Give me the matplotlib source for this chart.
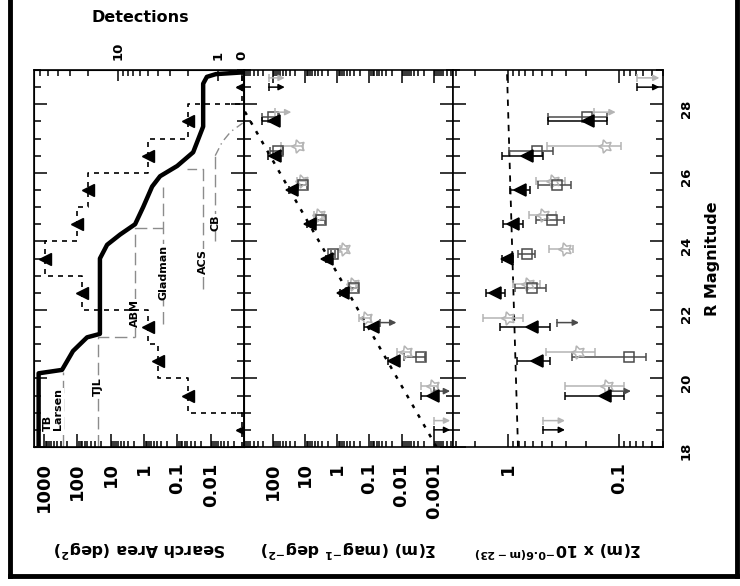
import numpy as np
import matplotlib
matplotlib.use('Agg')
import matplotlib.pyplot as plt
from matplotlib.ticker import (LogLocator, NullFormatter, FixedLocator,
                               FixedFormatter, MultipleLocator)
from matplotlib.lines import Line2D

plt.rcParams['font.family'] = ['DejaVu Sans']
plt.rcParams['font.weight'] = 'bold'
plt.rcParams['mathtext.default'] = 'bf'

# ---- data -------------------------------------------------------------
# half-magnitude bin centres (R)
mag_bins = np.array([18.5, 19.5, 20.5, 21.5, 22.5, 23.5, 24.5, 25.5, 26.5, 27.5, 28.5])

# detections per bin
detections = np.array([0, 2, 4, 5, 23, 54, 26, 20, 5, 2, 0])

# total effective search area (deg^2) vs magnitude
area_mag = [18.0, 20.15, 20.25, 20.4, 20.8, 21.2, 21.3, 23.5, 23.9, 24.2, 24.5,
            25.0, 25.6, 25.9, 26.2, 26.6, 27.35, 28.6, 28.8, 28.88, 28.93]
area_deg2 = [1450, 1450, 288, 234, 135, 51, 21, 21, 12.8, 5.2, 1.85,
             1.06, 0.57, 0.33, 0.101, 0.0335, 0.0168, 0.0168, 0.013, 0.007, 0.0011]

# individual surveys (grey dashed outlines)
survey_names = ['TB', 'Larsen', 'TJL', 'ABM', 'Gladman', 'ACS', 'CB']
survey_path_area = [
    [],
    [270, 270],
    [24, 24, 1.85],
    [1.85, 1.85, 0.267],
    [0.267, 0.267],
    [0.0168, 0.0168, 0.05],
    [0.0073, 0.0073],
]
survey_path_mag = [
    [],
    [18.0, 20.2],
    [18.0, 21.2, 21.2],
    [21.2, 24.4, 24.4],
    [21.6, 25.6],
    [22.6, 26.1, 26.1],
    [24.0, 26.5],
]
label_area = [760, 380, 24, 1.85, 0.267, 0.0168, 0.0073]
label_mag = [18.7, 19.1, 19.75, 21.9, 23.1, 23.4, 24.55]

# faint-end roll-off of the deepest surveys (thin grey)
rolloff_area = [0.0073, 0.0045, 0.0025, 0.0011]
rolloff_mag = [26.5, 26.9, 27.2, 27.45]

# Sigma(m) x 10^-0.6(m-23) ; value, upper end, lower end of error bar
tri_val = np.array([np.nan, 0.132, 0.552, 0.613, 1.32, 1.02, 0.90, 0.78, 0.68, 0.191, np.nan])
tri_up = np.array([np.nan, 0.305, 0.84, 1.19, 1.6, 1.15, 1.11, 0.97, 1.13, 0.433, np.nan])
tri_dn = np.array([np.nan, 0.090, 0.418, 0.418, 1.07, 0.90, 0.74, 0.635, 0.486, 0.128, np.nan])

sq_val = np.array([np.nan, np.nan, 0.081, np.nan, 0.613, 0.68, 0.403, 0.359, 0.545, 0.194, np.nan])
sq_up = np.array([np.nan, np.nan, 0.265, np.nan, 0.87, 0.81, 0.56, 0.533, 0.98, 0.433, np.nan])
sq_dn = np.array([np.nan, np.nan, 0.057, np.nan, 0.454, 0.571, 0.31, 0.271, 0.39, 0.128, np.nan])

star_val = np.array([np.nan, 0.128, 0.236, 1.0, 0.658, 0.305, 0.48, 0.39, 0.132, np.nan, np.nan])
star_up = np.array([np.nan, 0.305, 0.454, 1.71, 0.91, 0.424, 0.645, 0.56, 0.448, np.nan, np.nan])
star_dn = np.array([np.nan, 0.090, 0.163, 0.73, 0.515, 0.257, 0.368, 0.305, 0.095, np.nan, np.nan])

# upper limits
tri_ul_mag = np.array([18.5, 28.5])
tri_ul = np.array([0.486, 0.068])
sq_ul_mag = np.array([19.5, 21.5])
sq_ul = np.array([0.123, 0.363])
star_ul_mag = np.array([18.5, 27.5, 28.5])
star_ul = np.array([0.486, 0.169, 0.068])

# power-law fit (in the normalised units)
fit_mag = np.array([18.0, 29.0])
fit_norm = np.array([0.817, 1.028])

# ---- figure -----------------------------------------------------------
W, H = 740.0, 586.0
fig = plt.figure(figsize=(W / 100, H / 100), dpi=100)


def px_box(x0, x1, ytop, ybot):
    return [x0 / W, 1 - ybot / H, (x1 - x0) / W, (ybot - ytop) / H]


ax1 = fig.add_axes(px_box(34, 244, 70, 447))
ax2 = fig.add_axes(px_box(244, 453, 70, 447))
ax3 = fig.add_axes(px_box(453, 663, 70, 447))

GREY_DARK = '#4a4a4a'
GREY_LIGHT = '#b4b4b4'
GREY_LINE = '#8c8c8c'


def style_axis(ax, xlim, major, labels):
    ax.set_xscale('log')
    ax.set_xlim(*xlim)
    ax.set_ylim(18, 29)
    ax.xaxis.set_major_locator(FixedLocator(major))
    ax.xaxis.set_major_formatter(FixedFormatter(labels))
    ax.xaxis.set_minor_locator(LogLocator(base=10, subs=np.arange(2, 10), numticks=60))
    ax.xaxis.set_minor_formatter(NullFormatter())
    ax.yaxis.set_major_locator(MultipleLocator(2))
    ax.yaxis.set_minor_locator(MultipleLocator(0.5))
    ax.tick_params(which='both', direction='in', top=True, bottom=True,
                   left=True, right=True, labelleft=False, width=1.1)
    ax.tick_params(axis='y', which='major', length=9.5)
    ax.tick_params(axis='y', which='minor', length=5)
    ax.tick_params(axis='x', which='major', length=9.5)
    ax.tick_params(axis='x', which='minor', length=4)
    ax.tick_params(axis='x', labelsize=13, labelrotation=90, pad=11)
    for s in ax.spines.values():
        s.set_linewidth(1.2)


style_axis(ax1, (10**3.3, 10**-3.0), [1000, 100, 10, 1, 0.1, 0.01],
           ['1000', '100', '10', '1', '0.1', '0.01'])
style_axis(ax2, (10**2.9, 10**-3.6), [100, 10, 1, 0.1, 0.01, 0.001],
           ['100', '10', '1', '0.1', '0.01', '0.001'])
style_axis(ax3, (10**0.5, 10**-1.4), [1, 0.1], ['1', '0.1'])
ax3.tick_params(axis='y', labelright=True, labelsize=9.5, labelrotation=90, pad=12)

# ---- panel 1: search area + detections ---------------------------------
ax1.plot(area_deg2, area_mag, color='k', lw=3.2, solid_joinstyle='round',
         solid_capstyle='round', zorder=4)

for pa, pm in zip(survey_path_area, survey_path_mag):
    if pa:
        ax1.plot(pa, pm, color=GREY_LINE, lw=1.0, ls=(0, (9, 4)), zorder=2)
ax1.plot(rolloff_area, rolloff_mag, color=GREY_LINE, lw=1.0, ls=(0, (6, 3, 1, 3)), zorder=2)

for name, la, lm in zip(survey_names, label_area, label_mag):
    ax1.text(la, lm, name, rotation=90, fontsize=8, ha='center', va='center',
             zorder=3, bbox=dict(facecolor='white', edgecolor='none', pad=0.5))

# detections on twin axis (top)
ax1t = ax1.twiny()
zero_pos = 0.58
ax1t.set_xscale('log')
ax1t.set_xlim(10**1.84, 10**-0.26)
ax1t.set_ylim(18, 29)
ax1t.xaxis.set_major_locator(FixedLocator([10, 1, zero_pos]))
ax1t.xaxis.set_major_formatter(FixedFormatter(['10', '1', '0']))
ax1t.xaxis.set_minor_locator(FixedLocator([2, 3, 4, 5, 6, 7, 8, 9, 20, 30, 40, 50, 60]))
ax1t.xaxis.set_minor_formatter(NullFormatter())
ax1t.tick_params(axis='x', which='both', direction='in', width=1.1,
                 labelsize=9.5, labelrotation=90, pad=7)
ax1t.tick_params(axis='x', which='major', length=8)
ax1t.tick_params(axis='x', which='minor', length=4.5)
ax1.tick_params(axis='x', which='both', top=False)

det_plot = np.where(detections > 0, detections, zero_pos)
step_y = np.column_stack([mag_bins - 0.5, mag_bins + 0.5]).ravel()
step_x = np.repeat(det_plot, 2)
ax1t.plot(step_x, step_y, color='k', lw=1.2, ls=(0, (3, 3)), zorder=3)
ax1t.plot(det_plot, mag_bins, ls='none', marker='<', ms=9, color='k', zorder=5)


# ---- panels 2 and 3: surface density -----------------------------------
def draw_points(ax, scale_fn, arrow_dex):
    series = [
        (star_val, star_up, star_dn, 0.27, GREY_LIGHT, dict(marker=(5, 1, 90), ms=10, mfc='none')),
        (sq_val, sq_up, sq_dn, 0.13, GREY_DARK, dict(marker='s', ms=7, mfc='none')),
        (tri_val, tri_up, tri_dn, 0.0, 'k', dict(marker='<', ms=9, mfc='k')),
    ]
    for val, up, dn, off, col, mk in series:
        ok = np.isfinite(val)
        m = mag_bins[ok]
        s = scale_fn(m)
        v = val[ok] * s
        err = [v - dn[ok] * s, up[ok] * s - v]
        ax.errorbar(v, m + off, xerr=err, ls='none', color=col, ecolor=col,
                    mec=col, mew=1.1, elinewidth=1.1, capsize=3, capthick=1.1,
                    zorder=4 if col == 'k' else 3, **mk)
    limits = [(star_ul_mag, star_ul, 0.27, GREY_LIGHT),
              (sq_ul_mag, sq_ul, 0.13, GREY_DARK),
              (tri_ul_mag, tri_ul, 0.0, 'k')]
    for um, uv, off, col in limits:
        for mm, vv in zip(um, uv):
            x0 = vv * scale_fn(mm)
            ax.annotate('', xy=(x0 * 10**(-arrow_dex), mm + off), xytext=(x0, mm + off),
                        arrowprops=dict(arrowstyle='-|>', color=col, lw=1.1,
                                        mutation_scale=9, shrinkA=0, shrinkB=0),
                        annotation_clip=False, zorder=4)
            ax.plot([x0], [mm + off], marker='|', ms=6, mew=1.1, color=col, zorder=4)


def to_sigma(m):
    return 10**(0.6 * (np.asarray(m) - 23))


def unit(m):
    return np.ones_like(np.asarray(m, dtype=float))


draw_points(ax2, to_sigma, 0.5)
draw_points(ax3, unit, 0.2)

ax2.plot(fit_norm * to_sigma(fit_mag), fit_mag, color='k', lw=1.8, ls=(0, (1.5, 3)), zorder=2)
ax3.plot(fit_norm, fit_mag, color='k', lw=1.3, ls=(0, (3.5, 3.5)), zorder=2)

# ---- labels ------------------------------------------------------------
fig.text(140 / W, 1 - 18 / H, 'Detections', ha='center', va='center', fontsize=11.5)
fig.text(140 / W, 1 - 549 / H, 'Search Area (deg$^2$)', rotation=180,
         ha='center', va='center', fontsize=11.5)
fig.text(349 / W, 1 - 549 / H, 'Σ(m) (mag$^{-1}$ deg$^{-2}$)', rotation=180,
         ha='center', va='center', fontsize=11.5)
fig.text(558 / W, 1 - 549 / H, 'Σ(m) x 10$^{-0.6(m-23)}$', rotation=180,
         ha='center', va='center', fontsize=11.5)
fig.text(713 / W, 1 - 259 / H, 'R Magnitude', rotation=90,
         ha='center', va='center', fontsize=11.5)

# frame around the page (left, bottom, right)
for xs, ys in [([10, 10], [0, 576]), ([10, 737], [576, 576]), ([737, 737], [0, 576])]:
    fig.add_artist(Line2D([x / W for x in xs], [1 - y / H for y in ys],
                          transform=fig.transFigure, color='k', lw=3.5,
                          solid_capstyle='projecting'))

fig.savefig('out.png', dpi=100)
